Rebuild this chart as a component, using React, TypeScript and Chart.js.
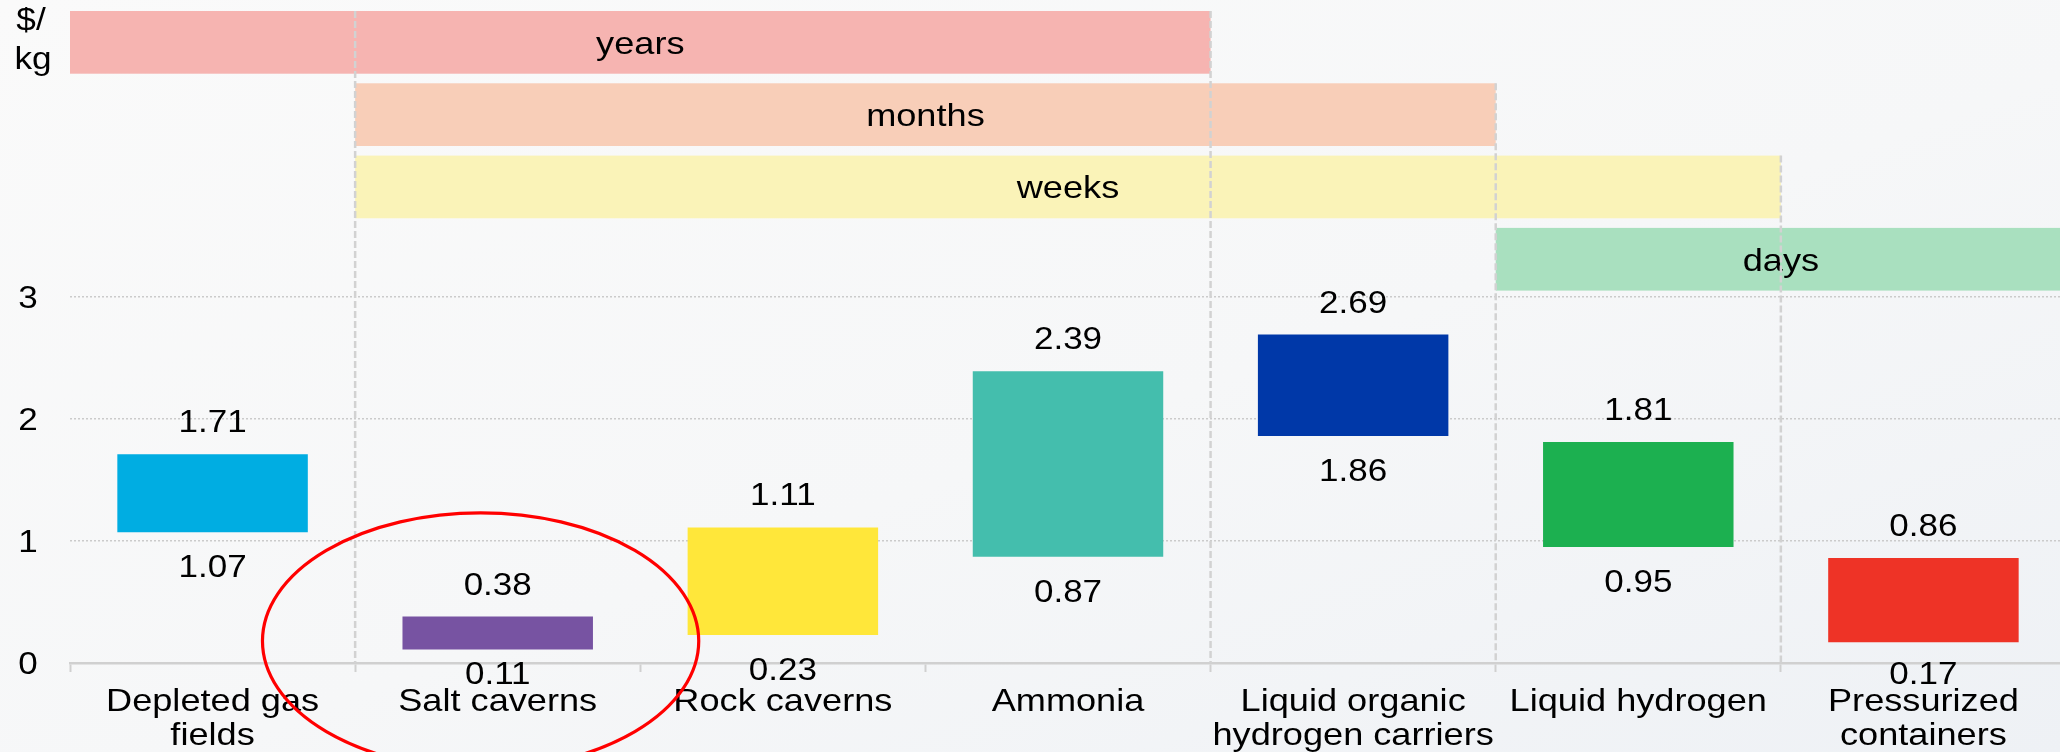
import React, { useEffect, useRef } from 'react';
import { Chart, registerables } from 'chart.js';

Chart.register(...registerables);

// ---------- data ----------
const CATEGORIES: string[][] = [
  ['Depleted gas', 'fields'],
  ['Salt caverns'],
  ['Rock caverns'],
  ['Ammonia'],
  ['Liquid organic', 'hydrogen carriers'],
  ['Liquid hydrogen'],
  ['Pressurized', 'containers'],
];
const COST_LOW = [1.07, 0.11, 0.23, 0.87, 1.86, 0.95, 0.17];
const COST_HIGH = [1.71, 0.38, 1.11, 2.39, 2.69, 1.81, 0.86];
const BAR_COLORS = ['#00ADE2', '#7753A2', '#FFE73A', '#44BEAD', '#0038A8', '#1CB050', '#EE3326'];
const Y_TICKS = [0, 1, 2, 3];
const Y_MAX = 5.34;
const Y_UNIT = ['$/', 'kg'];

// storage duration bands (first / last category covered)
const BAND_LABELS = ['years', 'months', 'weeks', 'days'];
const BAND_FIRST = [0, 1, 1, 5];
const BAND_LAST = [3, 4, 5, 6];
const BAND_COLORS = ['#F6B4B1', '#F8CEB8', '#FAF3B8', '#A9E0BF'];

const HIGHLIGHT_CATEGORY = 1;

// ---------- styling helpers ----------
const FONT = '"Liberation Sans", Arial, Helvetica, sans-serif';

function drawText(ctx: CanvasRenderingContext2D, s: string, x: number, y: number, size: number, sx: number, align: CanvasTextAlign = 'center') {
  ctx.save();
  ctx.font = `${size}px ${FONT}`;
  ctx.fillStyle = '#000000';
  ctx.textAlign = align;
  ctx.textBaseline = 'alphabetic';
  ctx.translate(x, y);
  ctx.scale(sx, 1);
  ctx.fillText(s, 0, 0);
  ctx.restore();
}

const decorPlugin = {
  id: 'decor',
  beforeDatasetsDraw(chart: any) {
    const { ctx, chartArea, scales } = chart;
    const xs = scales.x;
    const ys = scales.y;
    const catW = xs.getPixelForValue(1) - xs.getPixelForValue(0);
    const edge = (b: number) => xs.getPixelForValue(b) - catW / 2;
    const rowStep = 72.3;
    const rowH = 62.7;
    const axisY = ys.getPixelForValue(0);
    // bands
    BAND_LABELS.forEach((lab, r) => {
      const top = chartArea.top + r * rowStep;
      const x1 = edge(BAND_FIRST[r]);
      const x2 = edge(BAND_LAST[r] + 1);
      ctx.save();
      ctx.fillStyle = BAND_COLORS[r];
      ctx.fillRect(x1, top, x2 - x1, rowH);
      ctx.restore();
      drawText(ctx, lab, (x1 + x2) / 2, top + rowH / 2 + 11.3, 32, 1.13);
    });
    // dashed separators at band edges
    for (let b = 1; b < CATEGORIES.length; b++) {
      const isEdge = BAND_FIRST.some((f) => f === b) || BAND_LAST.some((l) => l + 1 === b);
      if (!isEdge) continue;
      let row = -1;
      for (let r = 0; r < BAND_LABELS.length; r++) {
        if (BAND_FIRST[r] <= b && b <= BAND_LAST[r] + 1) { row = r; break; }
      }
      if (row < 0) continue;
      const top = chartArea.top + row * rowStep;
      const x = edge(b);
      ctx.save();
      ctx.strokeStyle = '#D2D2D2';
      ctx.lineWidth = 2.5;
      ctx.setLineDash([7, 3]);
      ctx.beginPath();
      ctx.moveTo(x, top);
      ctx.lineTo(x, axisY);
      ctx.stroke();
      ctx.restore();
    }
  },
  afterDraw(chart: any) {
    const { ctx, scales } = chart;
    const xs = scales.x;
    const ys = scales.y;
    const axisY = ys.getPixelForValue(0);
    const catW = xs.getPixelForValue(1) - xs.getPixelForValue(0);
    // y tick labels
    Y_TICKS.forEach((v) => {
      drawText(ctx, String(v), 28, ys.getPixelForValue(v) + 11, 31, 1.13);
    });
    // unit
    drawText(ctx, Y_UNIT[0], 31, 30, 32, 1.1);
    drawText(ctx, Y_UNIT[1], 33, 69, 32, 1.1);
    // category labels
    CATEGORIES.forEach((lines, i) => {
      const cx = xs.getPixelForValue(i);
      lines.forEach((ln, k) => drawText(ctx, ln, cx, axisY + 47.6 + k * 34.3, 32, 1.13));
    });
    // value labels
    COST_HIGH.forEach((hi, i) => {
      const cx = xs.getPixelForValue(i);
      const yTop = ys.getPixelForValue(hi);
      drawText(ctx, hi.toFixed(2), cx, yTop - 33 + 11, 31, 1.13);
      const yBot = ys.getPixelForValue(COST_LOW[i]);
      const c = Math.min(yBot + 34, axisY + 10);
      drawText(ctx, COST_LOW[i].toFixed(2), cx, c + 11, 31, 1.13);
    });
    // highlight ellipse
    const ecx = xs.getPixelForValue(HIGHLIGHT_CATEGORY - 0.06);
    const ecy = ys.getPixelForValue(0.18);
    const rx = catW * 0.765;
    const ry = ys.getPixelForValue(0) - ys.getPixelForValue(1.05);
    ctx.save();
    ctx.strokeStyle = '#FF0000';
    ctx.lineWidth = 3.2;
    ctx.beginPath();
    ctx.ellipse(ecx, ecy, rx, ry, 0, 0, Math.PI * 2);
    ctx.stroke();
    ctx.restore();
  },
};

export default function App() {
  const ref = useRef<HTMLCanvasElement | null>(null);
  useEffect(() => {
    if (!ref.current) return;
    const chart = new Chart(ref.current, {
      type: 'bar',
      data: {
        labels: CATEGORIES.map((c) => c.join(' ')),
        datasets: [
          {
            data: COST_LOW.map((lo, i) => [lo, COST_HIGH[i]]) as any,
            backgroundColor: BAR_COLORS,
            borderWidth: 0,
            barPercentage: 0.668,
            categoryPercentage: 1,
          },
        ],
      },
      options: {
        animation: false,
        responsive: true,
        maintainAspectRatio: false,
        layout: { padding: { top: 11, left: 0, right: 0, bottom: 0 } },
        plugins: { legend: { display: false }, tooltip: { enabled: false } },
        scales: {
          x: {
            offset: true,
            ticks: { display: false },
            grid: {
              display: true,
              offset: true,
              drawOnChartArea: false,
              drawTicks: true,
              tickLength: 9,
              tickColor: '#D0D0D0',
              tickWidth: 2,
            },
            border: { display: true, color: '#D0D0D0', width: 2.5 },
            afterFit: (s: any) => { s.height = 89; },
          },
          y: {
            min: 0,
            max: Y_MAX,
            ticks: { display: false },
            afterBuildTicks: (s: any) => { s.ticks = Y_TICKS.map((v) => ({ value: v })); },
            grid: {
              display: true,
              drawTicks: false,
              lineWidth: 1.5,
              color: (c: any) => (c.tick && c.tick.value === 0 ? 'rgba(0,0,0,0)' : '#CBCBCB'),
            },
            border: { display: false, dash: [2, 2] },
            afterFit: (s: any) => { s.width = 70; },
          },
        },
      },
      plugins: [decorPlugin],
    });
    return () => chart.destroy();
  }, []);

  return (
    <div
      style={{
        position: 'fixed',
        left: 0,
        top: 0,
        width: 2060,
        height: 752,
        overflow: 'hidden',
        background: 'linear-gradient(160deg, #FAFAFA 0%, #F6F7F8 55%, #EEF1F5 100%)',
      }}
    >
      <div style={{ position: 'relative', width: 2066, height: 752 }}>
        <canvas ref={ref} />
      </div>
    </div>
  );
}
